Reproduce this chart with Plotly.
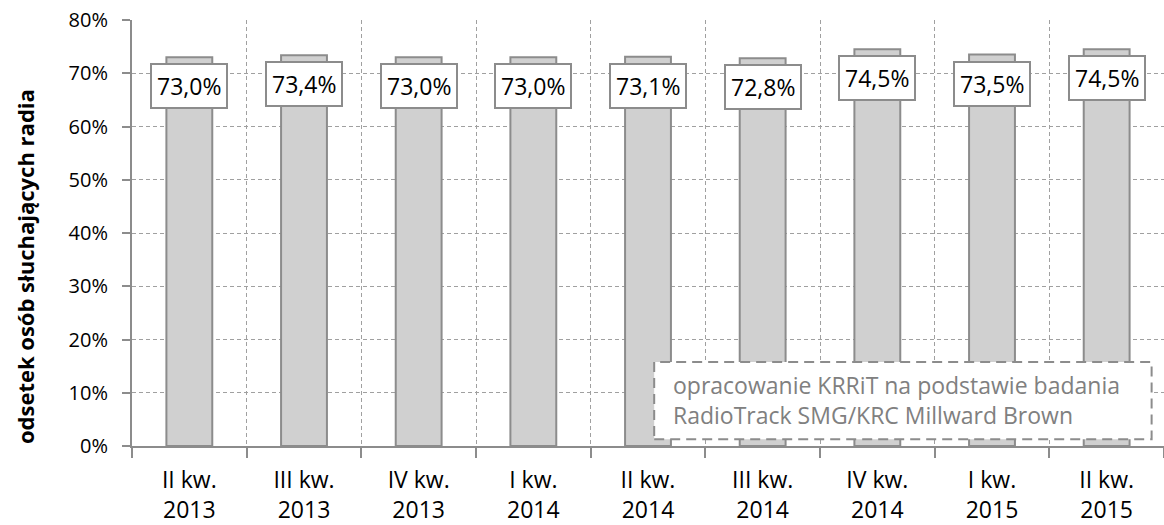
import plotly.graph_objects as go

categories = ["II kw.<br>2013", "III kw.<br>2013", "IV kw.<br>2013", "I kw.<br>2014",
              "II kw.<br>2014", "III kw.<br>2014", "IV kw.<br>2014", "I kw.<br>2015",
              "II kw.<br>2015"]
values = [73.0, 73.4, 73.0, 73.0, 73.1, 72.8, 74.5, 73.5, 74.5]
y_ticks = [0, 10, 20, 30, 40, 50, 60, 70, 80]
y_ticklabels = [f"{t}%" for t in y_ticks]
y_title = "odsetek osób słuchających radia"
source_note = "opracowanie KRRiT na podstawie badania<br>RadioTrack SMG/KRC Millward Brown"

FONT = "Open Sans"
GRID = "#A0A0A0"
AXIS = "#8C8C8C"

fig = go.Figure()
fig.add_trace(go.Bar(
    x=categories, y=values, width=0.4,
    marker=dict(color="#D0D0D0", line=dict(color="#8C8C8C", width=2)),
    hoverinfo="skip",
))

for c, v in zip(categories, values):
    fig.add_annotation(
        x=c, y=v, text=f"{v:.1f}".replace(".", ",") + "%",
        showarrow=False, yshift=-29,
        font=dict(family=FONT, size=23, color="#000000"),
        bgcolor="white", bordercolor="#8C8C8C", borderwidth=2, borderpad=5,
    )

# y-axis title (placed as rotated annotation to match the original offset)
fig.add_annotation(xref="paper", yref="paper", x=0, y=0.42, xshift=-107,
                   xanchor="center", yanchor="middle", textangle=-90,
                   text=f"<b>{y_title}</b>", showarrow=False,
                   font=dict(family=FONT, size=22, color="#000000"))

# source note box
fig.add_shape(type="rect", xref="paper", yref="paper",
              x0=0.506, x1=0.988, y0=0.016, y1=0.197,
              fillcolor="white", line=dict(color="#8C8C8C", width=2, dash="10px,6px"),
              layer="above")
fig.add_annotation(xref="paper", yref="paper", x=0.522, y=0.107,
                   xanchor="left", yanchor="middle", align="left",
                   text=source_note, showarrow=False,
                   font=dict(family=FONT, size=23, color="#808080"))

fig.update_layout(
    width=1164, height=525,
    margin=dict(l=132, r=0, t=20, b=79),
    paper_bgcolor="white", plot_bgcolor="white",
    showlegend=False,
    font=dict(family=FONT, size=21, color="#000000"),
    xaxis=dict(
        type="category", tickson="boundaries",
        showgrid=True, gridcolor=GRID, griddash="4px,3px", gridwidth=1.3,
        showline=True, linecolor=AXIS, linewidth=2,
        ticks="outside", ticklen=10, tickcolor=AXIS, tickwidth=1.5,
        ticklabelstandoff=12,
        tickfont=dict(family=FONT, size=23, color="#000000"),
        automargin=False,
    ),
    yaxis=dict(
        range=[0, 80], tickmode="array", tickvals=y_ticks, ticktext=y_ticklabels,
        showgrid=True, gridcolor=GRID, griddash="4px,3px", gridwidth=1.3,
        zeroline=False,
        showline=True, linecolor=AXIS, linewidth=2,
        ticks="outside", ticklen=8, tickcolor=AXIS, tickwidth=1.5,
        ticklabelstandoff=10, ticklabeloverflow="allow",
        tickfont=dict(family=FONT, size=20, color="#000000"),
        automargin=False,
    ),
)

fig.write_html("out.html", config={"displayModeBar": False},
               post_script="document.body.style.margin='0';")
